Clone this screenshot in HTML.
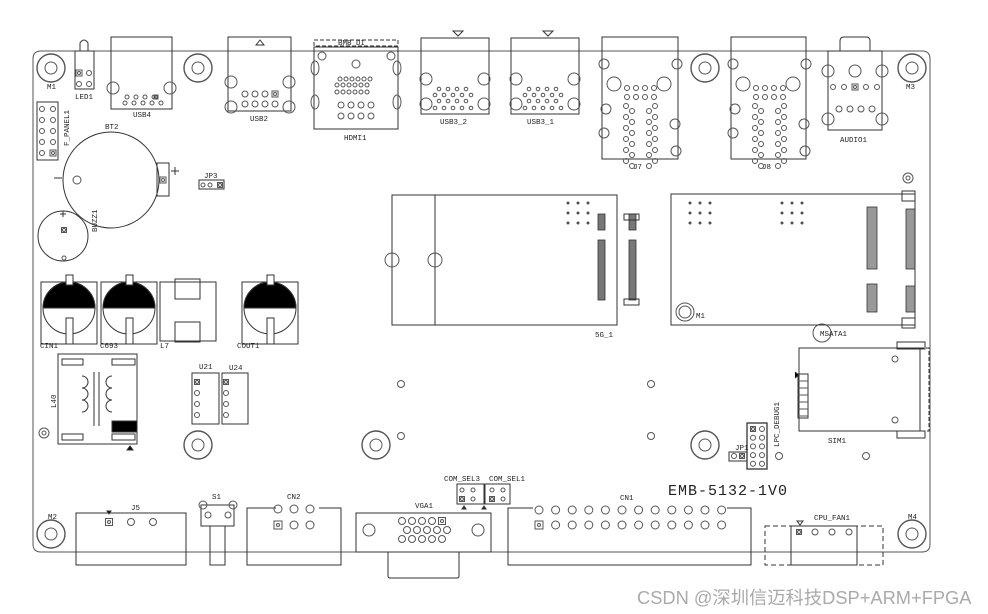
<!DOCTYPE html>
<html><head><meta charset="utf-8"><style>
html,body{margin:0;padding:0;background:#fff;width:988px;height:614px;overflow:hidden}
svg{display:block}
text{font-family:"Liberation Mono",monospace;font-size:7.5px;fill:#222;stroke:none}
.wm{font-family:"Liberation Sans","Noto Sans CJK SC",sans-serif;font-size:18.3px;fill:#aaa}
</style></head><body>
<svg id="s" width="988" height="614" viewBox="0 0 988 614" xmlns="http://www.w3.org/2000/svg" fill="none" stroke="#333" stroke-width="1">
<path d="M41 51 H922 Q930 51 930 59 V544 Q930 552 922 552 H41 Q33 552 33 544 V59 Q33 51 41 51 Z" stroke="#555"/>
<g id="holes"></g>
<path d="M80 51 V43 Q84 37 88 43 V51"/><rect x="75" y="51" width="19" height="38"/>
<rect x="111" y="37" width="61" height="72"/>
<rect x="228" y="37" width="63" height="74"/><path d="M256 45 L260 40 L264 45 Z"/>
<rect x="314" y="40" width="84" height="6" stroke-dasharray="4,2"/><rect x="314" y="47" width="84" height="82"/>
<text x="338" y="45" font-size="5">BMB DI</text>
<rect x="421" y="38" width="68" height="76"/><path d="M453 31 L463 31 L458 36 Z"/>
<rect x="511" y="38" width="68" height="76"/><path d="M543 31 L553 31 L548 36 Z"/>
<rect x="602" y="37" width="76" height="122"/><rect x="731" y="37" width="75" height="122"/>
<path d="M840 51 V41 Q840 37 844 37 H866 Q870 37 870 41 V51"/><rect x="828" y="51" width="54" height="79"/>
<rect x="37" y="102" width="21" height="58"/>
<circle cx="111" cy="180" r="48"/><rect x="157" y="163" width="12" height="33"/>
<path d="M54 178 H62 M171 171 H179 M175 167 V175"/>
<rect x="199" y="180" width="25" height="9"/>
<circle cx="63" cy="236" r="25"/><path d="M60 214 H66 M63 211 V217"/>
<g id="caps"></g>
<rect x="160" y="282" width="56" height="59"/><rect x="175" y="279" width="25" height="20"/><rect x="175" y="322" width="25" height="20"/>
<rect x="392" y="195" width="225" height="130"/><path d="M435 195 V325"/>
<g stroke="#333" stroke-width="0.8" fill="#777">
<rect x="598" y="214" width="7" height="16"/><rect x="598" y="240" width="7" height="60"/>
<rect x="629" y="214" width="7" height="16"/><rect x="629" y="240" width="7" height="60"/>
<rect x="867" y="207" width="10" height="62" fill="#999"/><rect x="906" y="209" width="9" height="60" fill="#999"/>
<rect x="867" y="284" width="10" height="28" fill="#999"/><rect x="906" y="286" width="9" height="26" fill="#999"/>
</g>
<rect x="624" y="214" width="15" height="6"/><rect x="624" y="299" width="15" height="6"/>
<rect x="671" y="194" width="244" height="131"/>
<rect x="902" y="191" width="13" height="10"/><rect x="902" y="318" width="13" height="10"/>
<rect x="58" y="354" width="79" height="90"/>
<rect x="62" y="359" width="21" height="6"/><rect x="112" y="359" width="23" height="6"/>
<rect x="62" y="434" width="21" height="6"/><rect x="112" y="434" width="23" height="6"/>
<rect x="112" y="421" width="25" height="11" fill="#000"/>
<path d="M94 372 V426 M99 372 V426"/>
<path d="M82 376 a6 6 0 1 1 0 12 a6 6 0 1 1 0 12 a6 6 0 1 1 0 12 M112 376 a6 6 0 1 0 0 12 a6 6 0 1 0 0 12 a6 6 0 1 0 0 12"/>
<path d="M127 450 L130 446 L133 450 Z" fill="#000"/>
<rect x="192" y="373" width="27" height="51"/><rect x="222" y="373" width="26" height="51"/>
<rect x="76" y="513" width="110" height="52"/><path d="M107 511 L111 511 L109 514 Z" fill="#000"/>
<rect x="201" y="505" width="33" height="21"/><rect x="210" y="526" width="15" height="39"/>
<path d="M276 508 H247 V565 H341 V508 H319"/>
<rect x="356" y="513" width="135" height="39"/><path d="M388 552 V576 Q388 578 390 578 H457 Q459 578 459 576 V552"/>
<rect x="457" y="484" width="27" height="20"/><rect x="485" y="484" width="25" height="20"/>
<path d="M462 509 L464 506 L466 509Z M482 509 L484 506 L486 509Z" fill="#333"/>
<path d="M533 508 H508 V565 H751 V508 H727"/>
<rect x="747" y="423" width="20" height="46" stroke-width="1.3"/><rect x="729" y="452" width="18" height="9"/>
<rect x="799" y="348" width="121" height="83"/><path d="M920 348 H929 V431 H920" stroke-dasharray="4,2"/>
<rect x="897" y="342" width="28" height="7"/><rect x="897" y="431" width="28" height="7"/>
<rect x="798" y="374" width="10" height="44"/>
<path d="M795 378 L799 375 L795 372" fill="#000"/>
<rect x="765" y="526" width="118" height="39" stroke-dasharray="5,3"/><rect x="791" y="526" width="66" height="39"/>
<path d="M797 521 L803 521 L800 525Z"/>
<g id="pins" stroke="#555"></g>

<text x="47" y="89" font-size="5">M1</text>
<text x="75" y="99">LED1</text>
<text x="133" y="117">USB4</text>
<text x="250" y="121">USB2</text>
<text x="344" y="140">HDMI1</text>
<text x="440" y="124">USB3_2</text>
<text x="527" y="124">USB3_1</text>
<text x="633" y="169">J7</text>
<text x="762" y="169">J8</text>
<text x="840" y="142">AUDIO1</text>
<text x="906" y="89" font-size="5">M3</text>
<text x="105" y="129">BT2</text>
<text x="204" y="178">JP3</text>
<text transform="translate(69,146) rotate(-90)">F_PANEL1</text>
<text transform="translate(97,232) rotate(-90)">BUZZ1</text>
<text x="40" y="348">CIN1</text>
<text x="100" y="348">C693</text>
<text x="160" y="348">L7</text>
<text x="237" y="348">COUT1</text>
<text x="595" y="337">5G_1</text>
<text x="820" y="336">MSATA1</text>
<text x="696" y="318" font-size="5">M1</text>
<text transform="translate(56,408) rotate(-90)">L40</text>
<text x="199" y="369">U21</text>
<text x="229" y="370">U24</text>
<text x="828" y="443">SIM1</text>
<text transform="translate(779,447) rotate(-90)">LPC_DEBUG1</text>
<text x="735" y="450">JP1</text>
<text x="668" y="495" style="font-family:'Liberation Mono',monospace;font-size:15px;letter-spacing:1px">EMB-5132-1V0</text>
<text x="131" y="510">J5</text>
<text x="212" y="499">S1</text>
<text x="287" y="499">CN2</text>
<text x="415" y="508">VGA1</text>
<text x="444" y="481">COM_SEL3</text>
<text x="489" y="481">COM_SEL1</text>
<text x="620" y="500">CN1</text>
<text x="814" y="520">CPU_FAN1</text>
<text x="48" y="519" font-size="5">M2</text>
<text x="908" y="519" font-size="5">M4</text>
<text x="637" y="604" class="wm">CSDN @深圳信迈科技DSP+ARM+FPGA</text>
</svg>
<script>
var NS="http://www.w3.org/2000/svg",P=document.getElementById('pins'),H=document.getElementById('holes'),C=document.getElementById('caps');
function el(g,t,a){var e=document.createElementNS(NS,t);for(var k in a)e.setAttribute(k,a[k]);g.appendChild(e);return e;}
function c(x,y,r,g){el(g||P,'circle',{cx:x,cy:y,r:r||2.5});}
function sq(x,y,s){s=s||5;el(P,'rect',{x:x-s/2,y:y-s/2,width:s,height:s});c(x,y,1.5);}
function mh(x,y){el(H,'circle',{cx:x,cy:y,r:14,'stroke-width':1.4,stroke:'#555'});el(H,'circle',{cx:x,cy:y,r:6,stroke:'#555'});}
[[51,68],[198,68],[705,68],[912,68],[198,445],[376,445],[705,445],[51,534],[912,534]].forEach(function(p){mh(p[0],p[1]);});
el(H,'circle',{cx:685,cy:312,r:9,stroke:'#555'});el(H,'circle',{cx:685,cy:312,r:6,stroke:'#555'});
el(H,'circle',{cx:822,cy:333,r:9,stroke:'#555'});
el(H,'circle',{cx:908,cy:178,r:5,stroke:'#555'});el(H,'circle',{cx:908,cy:178,r:2,stroke:'#555'});
el(H,'circle',{cx:44,cy:433,r:5,stroke:'#555'});el(H,'circle',{cx:44,cy:433,r:2,stroke:'#555'});
[[401,384],[401,436],[651,384],[651,436],[779,456],[866,456]].forEach(function(p){c(p[0],p[1],3.5);});
[[41,69],[101,129],[242,270]].forEach(function(a){
 el(C,'rect',{x:a[0],y:282,width:56,height:62});
 el(C,'circle',{cx:a[1],cy:308,r:26});
 el(C,'path',{d:'M'+(a[1]-26)+' 308 A26 26 0 0 1 '+(a[1]+26)+' 308 Z',fill:'#000'});
 el(C,'rect',{x:a[1]-3,y:275,width:7,height:10,fill:'#fff'});
 el(C,'rect',{x:a[1]-3,y:318,width:7,height:26,fill:'#fff'});
});
sq(79,73,6);c(89,73);c(79,84);c(89,84);
for(var i=0;i<5;i++){c(42,109+i*11);if(i<4)c(53,109+i*11);else sq(53,153,6);}
c(77,180,4);sq(163,180,6);
c(203,185,2);c(210,185,2);sq(220,185,5);
sq(64,230,5);c(64,258,2);
for(i=0;i<4;i++)c(127+i*9,97,2);sq(156,97,4);for(i=0;i<5;i++)c(125+i*9,103,2);
c(113,88,6);c(170,88,6);
c(231,82,6);c(289,82,6);c(231,107,6);c(289,107,6);
for(i=0;i<3;i++)c(245+i*10,94,3);sq(275,94,6);for(i=0;i<4;i++)c(245+i*10,104,3);
el(P,'ellipse',{cx:315,cy:68,rx:4,ry:7});el(P,'ellipse',{cx:397,cy:68,rx:4,ry:7});
el(P,'ellipse',{cx:315,cy:102,rx:4,ry:7});el(P,'ellipse',{cx:397,cy:102,rx:4,ry:7});
c(322,56,4);c(391,56,4);c(356,64,4);
for(i=0;i<6;i++){c(340+i*6,79,2);c(337+i*6,85,2);c(337+i*6,92,2);}
for(i=0;i<4;i++){c(341+i*10,105,3);c(341+i*10,116,3);}
[421,511].forEach(function(x){c(x+5,79,6);c(x+63,79,6);c(x+5,104,6);c(x+63,104,6);
 for(i=0;i<4;i++){c(x+18+i*9,89,1.8);c(x+18+i*9,101,1.8);}for(i=0;i<5;i++){c(x+14+i*9,95,1.8);c(x+14+i*9,108,1.8);}});
[602,731].forEach(function(x){c(x+2,64,5);c(x+75,64,5);c(x+4,109,5);c(x+2,133,5);c(x+73,124,5);c(x+74,151,5);
 c(x+12,84,7);c(x+62,84,7);for(i=0;i<4;i++){c(x+25+i*9,88,2.5);c(x+25+i*9,97,2.5);}
 for(i=0;i<6;i++){var y=106+i*11;c(x+24,y,2.5);c(x+30,y+5,2.5);c(x+53,y,2.5);c(x+47,y+5,2.5);}});
c(828,71,6);c(855,71,6);c(882,71,6);c(828,119,6);c(882,119,6);
c(833,87,2.5);c(844,87,2.5);sq(855,87,6);c(866,87,2.5);c(877,87,2.5);
for(i=0;i<4;i++)c(839+i*11,109,3);
function dots(x,y){for(var r=0;r<3;r++)for(var q=0;q<3;q++)el(P,'circle',{cx:x+q*10,cy:y+r*10,r:1,fill:'#333'});}
dots(568,203);dots(690,203);dots(782,203);
c(392,260,7);c(435,260,7);
sq(197,382,5);c(197,393,2.5);c(197,404,2.5);c(197,415,2.5);
sq(226,382,5);c(226,393,2.5);c(226,404,2.5);c(226,415,2.5);
sq(109,522,7);c(131,522,3.5);c(153,522,3.5);
c(203,505,4);c(233,505,4);c(208,515,3);c(228,515,3);
c(278,509,4);c(294,509,4);c(310,509,4);sq(278,525,8);c(294,525,4);c(310,525,4);
c(369,530,6);c(478,530,6);
for(i=0;i<4;i++)c(402+i*10,521,3.5);sq(442,521,7);
for(i=0;i<5;i++){c(407+i*10,530,3.5);c(402+i*10,539,3.5);}
c(462,490,2);c(473,490,2);sq(462,499,5);c(473,499,2);
c(492,490,2);c(503,490,2);sq(492,499,5);c(503,499,2);
for(i=0;i<12;i++){c(539+i*16.6,510,4);if(i==0)sq(539,525,8);else c(539+i*16.6,525,4);}
sq(753,429,5);for(i=0;i<5;i++){if(i)c(753,429+i*8.7,2.5);c(762,429+i*8.7,2.5);}
c(734,456,2.5);sq(742,456,5);
for(i=0;i<6;i++)el(P,'line',{x1:798,y1:381+i*7,x2:808,y2:381+i*7});
c(895,359,3);c(895,420,3);
sq(799,532,5);c(815,532,3);c(832,532,3);c(849,532,3);
</script>
</body></html>
